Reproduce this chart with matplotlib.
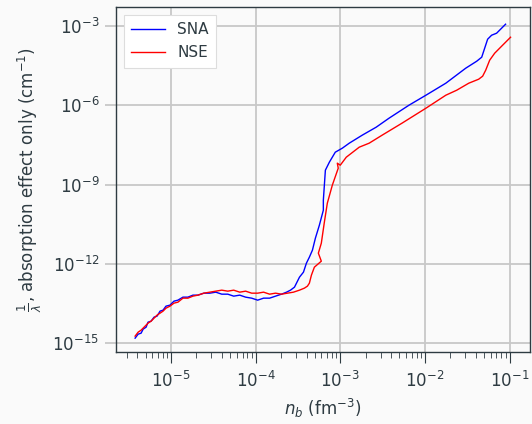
import numpy as np
import matplotlib
matplotlib.use("Agg")
import matplotlib.pyplot as plt
from matplotlib.ticker import LogLocator, NullLocator

# log10 of baryon density (fm^-3) and of inverse mean free path (cm^-1)
sna_log_nb = [-5.424, -5.388, -5.353, -5.329, -5.294, -5.271, -5.235, -5.200, -5.165, -5.129,
              -5.094, -5.059, -5.012, -4.965, -4.918, -4.859, -4.800, -4.741, -4.682, -4.612,
              -4.541, -4.471, -4.400, -4.329, -4.259, -4.188, -4.118, -4.047, -3.976, -3.906,
              -3.835, -3.765, -3.694, -3.635, -3.588, -3.541, -3.482, -3.435, -3.400, -3.365,
              -3.329, -3.294, -3.247, -3.200, -3.200, -3.188, -3.176, -3.129, -3.059, -2.976,
              -2.894, -2.741, -2.576, -2.424, -2.188, -1.988, -1.753, -1.518, -1.388, -1.329,
              -1.294, -1.259, -1.212, -1.153, -1.047]
sna_log_inv = [-14.818, -14.667, -14.629, -14.477, -14.402, -14.212, -14.174, -14.023, -13.985, -13.795,
               -13.758, -13.606, -13.568, -13.417, -13.379, -13.265, -13.265, -13.189, -13.189, -13.114,
               -13.114, -13.076, -13.152, -13.152, -13.227, -13.189, -13.265, -13.303, -13.379, -13.303,
               -13.303, -13.227, -13.152, -13.076, -13.000, -12.886, -12.508, -12.318, -11.977, -11.750,
               -11.485, -11.030, -10.538, -9.970, -9.591, -9.023, -8.455, -8.152, -7.773, -7.621,
               -7.432, -7.129, -6.826, -6.485, -5.992, -5.614, -5.159, -4.591, -4.326, -4.174,
               -3.833, -3.492, -3.341, -3.265, -2.924]

nse_log_nb = [-5.424, -5.388, -5.353, -5.318, -5.271, -5.235, -5.200, -5.165, -5.129, -5.094,
              -5.059, -5.012, -4.965, -4.918, -4.859, -4.800, -4.741, -4.682, -4.612, -4.541,
              -4.471, -4.400, -4.329, -4.259, -4.188, -4.118, -4.047, -3.976, -3.906, -3.835,
              -3.765, -3.694, -3.624, -3.553, -3.482, -3.424, -3.388, -3.365, -3.341, -3.306,
              -3.224, -3.259, -3.224, -3.188, -3.153, -3.094, -3.024, -3.035, -3.000, -2.929,
              -2.776, -2.659, -2.506, -2.271, -1.988, -1.753, -1.624, -1.482, -1.365, -1.318,
              -1.282, -1.235, -1.176, -1.094, -0.988]
nse_log_inv = [-14.742, -14.591, -14.515, -14.402, -14.250, -14.174, -14.061, -13.947, -13.871, -13.795,
               -13.682, -13.606, -13.492, -13.455, -13.303, -13.303, -13.227, -13.189, -13.114, -13.076,
               -13.038, -13.000, -13.038, -13.000, -13.076, -13.038, -13.114, -13.114, -13.076, -13.152,
               -13.114, -13.152, -13.114, -13.076, -13.000, -12.924, -12.848, -12.735, -12.432, -12.129,
               -11.902, -11.598, -11.220, -10.424, -9.705, -9.023, -8.379, -8.189, -8.265, -7.962,
               -7.583, -7.432, -7.129, -6.674, -6.106, -5.614, -5.424, -5.159, -5.008, -4.894,
               -4.667, -4.288, -4.023, -3.758, -3.417]

ink = "#2e3b42"
bg = "#fafafa"
plt.rcParams["font.family"] = "DejaVu Sans"
plt.rcParams["mathtext.fontset"] = "dejavusans"
plt.rcParams["text.color"] = ink
plt.rcParams["axes.labelcolor"] = ink
plt.rcParams["xtick.color"] = ink
plt.rcParams["ytick.color"] = ink

fig = plt.figure(figsize=(5.32, 4.24), dpi=100, facecolor=bg)
ax = fig.add_axes([0.218, 0.170, 0.778, 0.813], facecolor=bg)

ax.plot(10 ** np.array(sna_log_nb), 10 ** np.array(sna_log_inv), color="blue", lw=1.0, label="SNA")
ax.plot(10 ** np.array(nse_log_nb), 10 ** np.array(nse_log_inv), color="red", lw=1.0, label="NSE")

ax.set_xscale("log")
ax.set_yscale("log")
ax.set_xlim(10 ** -5.65, 10 ** -0.76)
ax.set_ylim(10 ** -15.34, 10 ** -2.28)

ax.yaxis.set_major_locator(LogLocator(base=10, subs=(1.0,), numticks=20))
ax.set_yticks([1e-15, 1e-12, 1e-9, 1e-6, 1e-3])
ax.yaxis.set_minor_locator(NullLocator())

ax.grid(True, which="major", color="#c8c8c8", lw=1.3)
ax.set_axisbelow(True)
for s in ax.spines.values():
    s.set_color(ink)
    s.set_linewidth(1.0)

ax.tick_params(axis="x", which="major", length=8, width=0.8, labelsize=12, pad=6)
ax.tick_params(axis="x", which="minor", length=4, width=0.6)
ax.tick_params(axis="y", which="major", length=8, width=1.3, color="#c8c8c8", labelsize=12, pad=4)

ax.set_xlabel(r"$n_b$ (fm$^{-3}$)", fontsize=12, labelpad=4)
ax.set_ylabel(r"$\frac{1}{\lambda}$, absorption effect only (cm$^{-1}$)", fontsize=12, labelpad=6)

leg = ax.legend(loc="upper left", fontsize=11, fancybox=False, framealpha=1.0,
                edgecolor="#dddddd", handlelength=2.2, borderpad=0.5)
leg.get_frame().set_linewidth(0.8)

fig.savefig("out.png", dpi=100, facecolor=bg)
